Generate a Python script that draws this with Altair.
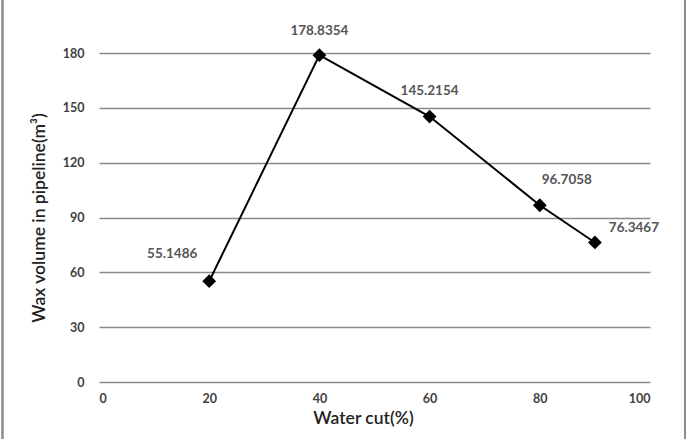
import altair as alt
import pandas as pd

# Water cut (%) and wax volume in the pipeline (m³)
water_cut = [20, 40, 60, 80, 90]
wax_volume = [55.1486, 178.8354, 145.2154, 96.7058, 76.3467]
value_labels = ["55.1486", "178.8354", "145.2154", "96.7058", "76.3467"]

# label placement relative to each marker (pixels)
label_dx = [-37, 0, 0, 27, 39]
label_dy = [-27, -24, -26, -25, -14]

df = pd.DataFrame({"cut": water_cut, "wax": wax_volume, "label": value_labels})

FONT = "Lato"
W, H = 551, 329
PAD = {"left": 99, "top": 53, "right": 689 - 99 - W, "bottom": 439 - 53 - H}

x = alt.X(
    "cut:Q",
    scale=alt.Scale(domain=[0, 100], nice=False),
    axis=alt.Axis(
        title="Water cut(%)", values=[0, 20, 40, 60, 80, 100], grid=False,
        ticks=False, domain=False, labelFont=FONT, labelFontWeight="bold",
        labelFontSize=12.5, labelColor="#404040", labelPadding=10,
        titleFont=FONT, titleFontSize=17.5, titleFontWeight=600,
        titleColor="#222222", titlePadding=5, titleX=264,
    ),
)
y = alt.Y(
    "wax:Q",
    scale=alt.Scale(domain=[0, 180], nice=False),
    axis=alt.Axis(
        title="Wax volume in pipeline(m³)", values=[0, 30, 60, 90, 120, 150, 180],
        grid=True, gridColor="#8a8a8a", gridWidth=1.6, ticks=False, domain=False,
        labelFont=FONT, labelFontWeight="bold", labelFontSize=12.5,
        labelColor="#404040", labelPadding=15,
        titleFont=FONT, titleFontSize=17.5, titleFontWeight=600,
        titleColor="#222222", titlePadding=14,
    ),
)

line = alt.Chart(df).mark_line(color="black", strokeWidth=2).encode(x=x, y=y)
points = alt.Chart(df).mark_point(
    shape="diamond", filled=True, color="black", size=190, opacity=1
).encode(x=x, y=y)

labels = []
for i, lab in enumerate(value_labels):
    labels.append(
        alt.Chart(df).transform_filter(alt.datum.label == lab).mark_text(
            font=FONT, fontWeight="bold", fontSize=13.5, color="#555555",
            dx=label_dx[i], dy=label_dy[i],
        ).encode(x=x, y=y, text="label:N")
    )

# outer frame lines on the left and right edges
frame = alt.Chart(pd.DataFrame({"k": [0]})).mark_rule(color="#8c8c8c", strokeWidth=2.5).encode(
    x=alt.value(-96.5), y=alt.value(-PAD["top"]), y2=alt.value(H + PAD["bottom"])
)
frame_r = alt.Chart(pd.DataFrame({"k": [0]})).mark_rule(color="#8c8c8c", strokeWidth=2).encode(
    x=alt.value(586), y=alt.value(-PAD["top"]), y2=alt.value(H + PAD["bottom"])
)

chart = alt.layer(line, points, *labels, frame, frame_r).properties(
    width=W, height=H,
    autosize=alt.AutoSizeParams(type="none"),
    padding=PAD,
    background="white",
).configure_view(stroke=None)

chart.save("out.html", embed_options={"renderer": "svg", "actions": False})
